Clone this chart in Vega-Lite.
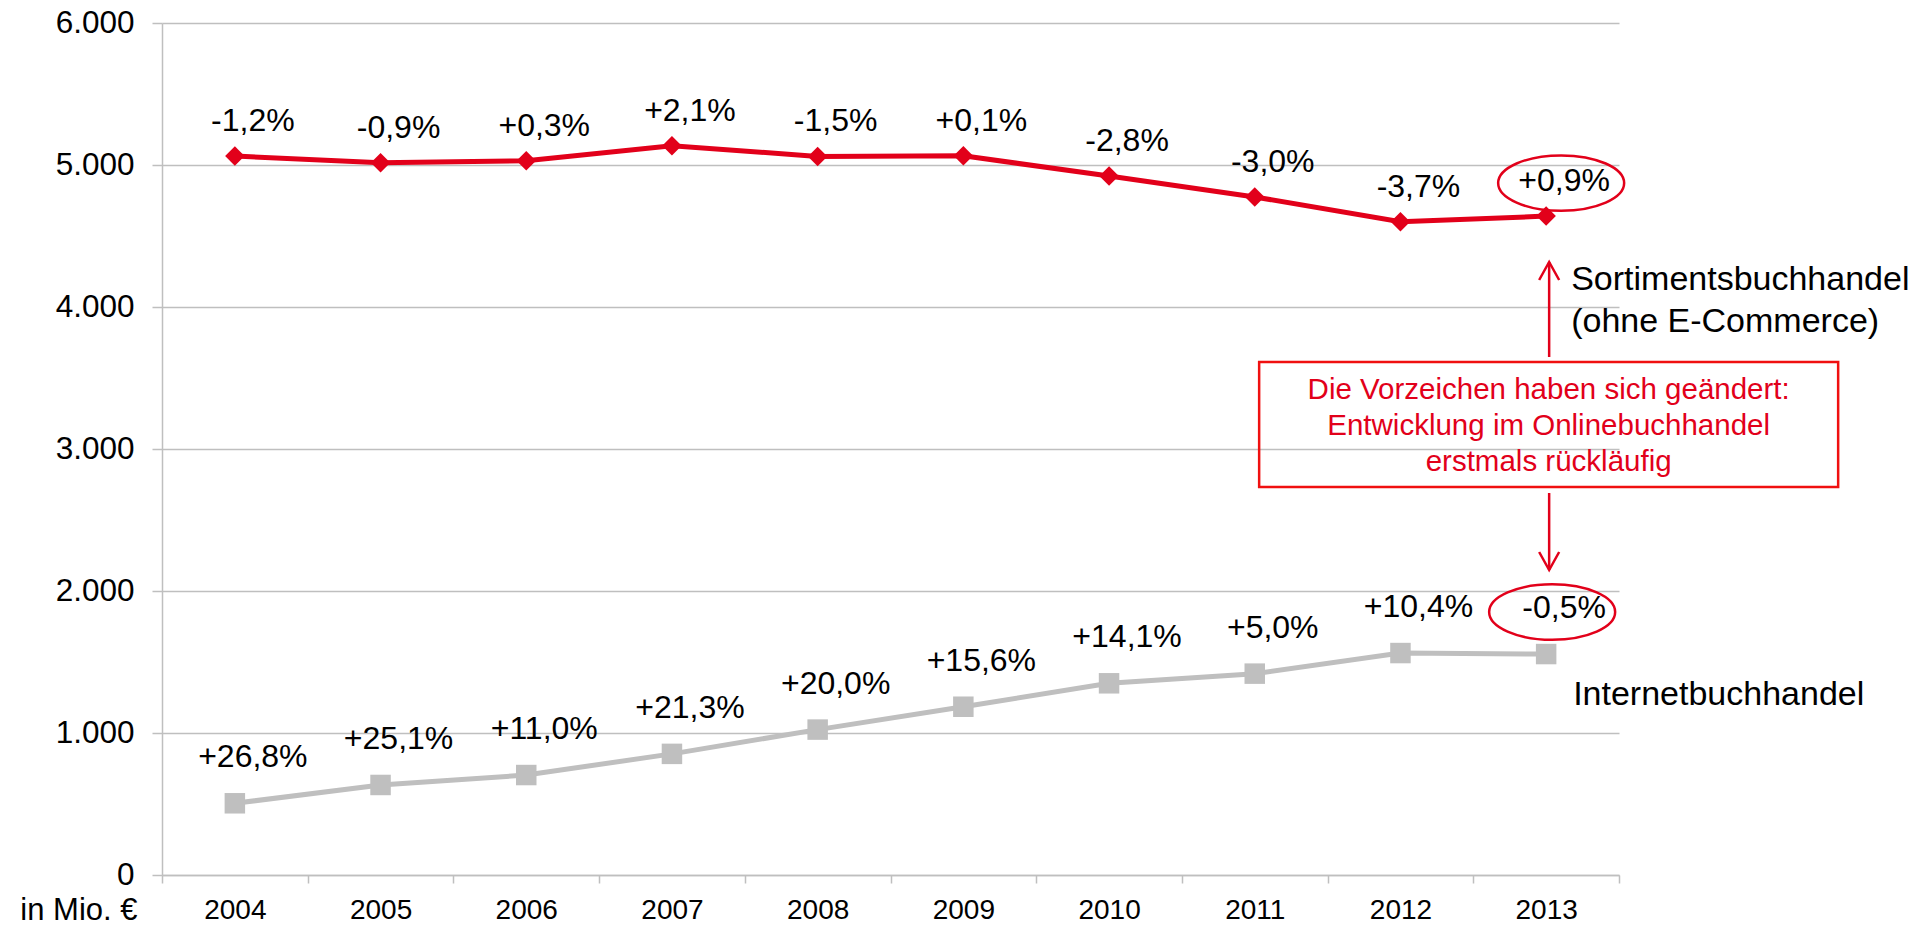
{
  "$schema": "https://vega.github.io/schema/vega-lite/v6.json",
  "width": 1457,
  "height": 852,
  "autosize": {"type": "none"},
  "padding": {"left": 162, "top": 23, "right": 302, "bottom": 52},
  "background": "white",
  "config": {"font": "Liberation Sans", "view": {"stroke": null}},
  "datasets": {
    "series": [
      {"series": "Sortiment", "year": "2004", "value": 5063, "label": "-1,2%"},
      {"series": "Sortiment", "year": "2005", "value": 5015, "label": "-0,9%"},
      {"series": "Sortiment", "year": "2006", "value": 5030, "label": "+0,3%"},
      {"series": "Sortiment", "year": "2007", "value": 5136, "label": "+2,1%"},
      {"series": "Sortiment", "year": "2008", "value": 5060, "label": "-1,5%"},
      {"series": "Sortiment", "year": "2009", "value": 5065, "label": "+0,1%"},
      {"series": "Sortiment", "year": "2010", "value": 4922, "label": "-2,8%"},
      {"series": "Sortiment", "year": "2011", "value": 4775, "label": "-3,0%"},
      {"series": "Sortiment", "year": "2012", "value": 4600, "label": "-3,7%"},
      {"series": "Sortiment", "year": "2013", "value": 4640, "label": "+0,9%"},
      {"series": "Internet", "year": "2004", "value": 505, "label": "+26,8%"},
      {"series": "Internet", "year": "2005", "value": 634, "label": "+25,1%"},
      {"series": "Internet", "year": "2006", "value": 704, "label": "+11,0%"},
      {"series": "Internet", "year": "2007", "value": 853, "label": "+21,3%"},
      {"series": "Internet", "year": "2008", "value": 1024, "label": "+20,0%"},
      {"series": "Internet", "year": "2009", "value": 1185, "label": "+15,6%"},
      {"series": "Internet", "year": "2010", "value": 1350, "label": "+14,1%"},
      {"series": "Internet", "year": "2011", "value": 1418, "label": "+5,0%"},
      {"series": "Internet", "year": "2012", "value": 1563, "label": "+10,4%"},
      {"series": "Internet", "year": "2013", "value": 1556, "label": "-0,5%"}
    ],
    "notes": [
      {"note": "box", "year": "2013", "value": 3173, "text": "Die Vorzeichen haben sich geändert:\nEntwicklung im Onlinebuchhandel\nerstmals rückläufig"},
      {"note": "up", "year": "2013", "value": 3648, "value2": 4317},
      {"note": "down", "year": "2013", "value": 2690, "value2": 2148},
      {"note": "sortiment", "year": "2013", "value": 4042, "text": "Sortimentsbuchhandel\n(ohne E-Commerce)"},
      {"note": "internet", "year": "2013", "value": 1268, "text": "Internetbuchhandel"}
    ]
  },
  "encoding": {
    "x": {
      "field": "year",
      "type": "ordinal",
      "scale": {"type": "band", "paddingInner": 0, "paddingOuter": 0},
      "axis": {
        "title": null,
        "tickBand": "extent",
        "tickSize": 8,
        "tickColor": "#bfbfbf",
        "tickWidth": 1.5,
        "domainColor": "#bfbfbf",
        "domainWidth": 1.5,
        "labelFontSize": 28,
        "labelPadding": 13,
        "labelColor": "#000000",
        "labelAngle": 0,
        "grid": false
      }
    },
    "y": {
      "field": "value",
      "type": "quantitative",
      "scale": {"domain": [0, 6000], "nice": false},
      "axis": {
        "values": [0, 1000, 2000, 3000, 4000, 5000, 6000],
        "labelExpr": "replace(format(datum.value, ','), ',', '.')",
        "labelFontSize": 31.5,
        "labelColor": "#000000",
        "labelPadding": 18,
        "tickSize": 10,
        "tickColor": "#bfbfbf",
        "tickWidth": 1.5,
        "domainColor": "#bfbfbf",
        "domainWidth": 1.5,
        "grid": true,
        "gridColor": "#bfbfbf",
        "gridWidth": 1.5,
        "title": "in Mio. €",
        "titleAngle": 0,
        "titleAlign": "right",
        "titleBaseline": "middle",
        "titleX": -25,
        "titleY": 887,
        "titleFontSize": 31,
        "titleFontWeight": "normal",
        "titleColor": "#000000"
      }
    }
  },
  "layer": [
    {
      "data": {"name": "series"},
      "transform": [{"filter": "datum.series === 'Internet'"}],
      "mark": {"type": "line", "color": "#bfbfbf", "strokeWidth": 5}
    },
    {
      "data": {"name": "series"},
      "transform": [{"filter": "datum.series === 'Internet'"}],
      "mark": {"type": "point", "shape": "square", "filled": true, "color": "#bfbfbf", "size": 420, "opacity": 1}
    },
    {
      "data": {"name": "series"},
      "transform": [{"filter": "datum.series === 'Internet'"}],
      "mark": {"type": "text", "fontSize": 32, "dy": -46, "dx": 18, "color": "#000000", "baseline": "middle", "align": "center"},
      "encoding": {"text": {"field": "label"}}
    },
    {
      "data": {"name": "series"},
      "transform": [{"filter": "datum.series === 'Sortiment'"}],
      "mark": {"type": "line", "color": "#e2001a", "strokeWidth": 5}
    },
    {
      "data": {"name": "series"},
      "transform": [{"filter": "datum.series === 'Sortiment'"}],
      "mark": {"type": "point", "shape": "diamond", "filled": true, "color": "#e2001a", "size": 380, "opacity": 1}
    },
    {
      "data": {"name": "series"},
      "transform": [{"filter": "datum.series === 'Sortiment'"}],
      "mark": {"type": "text", "fontSize": 32, "dy": -35, "dx": 18, "color": "#000000", "baseline": "middle", "align": "center"},
      "encoding": {"text": {"field": "label"}}
    },
    {
      "data": {"name": "series"},
      "transform": [{"filter": "datum.series === 'Sortiment' && datum.year === '2013'"}],
      "mark": {"type": "point", "shape": "M -1 0 A 1 0.44 0 1 1 1 0 A 1 0.44 0 1 1 -1 0 Z", "filled": false, "stroke": "#e2001a", "strokeWidth": 2.5, "size": 15876, "opacity": 1, "xOffset": 15, "yOffset": -33}
    },
    {
      "data": {"name": "series"},
      "transform": [{"filter": "datum.series === 'Internet' && datum.year === '2013'"}],
      "mark": {"type": "point", "shape": "M -1 0 A 1 0.44 0 1 1 1 0 A 1 0.44 0 1 1 -1 0 Z", "filled": false, "stroke": "#e2001a", "strokeWidth": 2.5, "size": 15876, "opacity": 1, "xOffset": 6, "yOffset": -42}
    },
    {
      "data": {"name": "notes"},
      "transform": [{"filter": "datum.note === 'box'"}],
      "mark": {"type": "point", "shape": "M -1 -0.216 L 1 -0.216 L 1 0.216 L -1 0.216 Z", "filled": false, "stroke": "#f01010", "strokeWidth": 2.5, "size": 335241, "opacity": 1, "xOffset": 2.5}
    },
    {
      "data": {"name": "notes"},
      "transform": [{"filter": "datum.note === 'box'"}],
      "mark": {"type": "text", "fontSize": 29.5, "lineHeight": 36, "lineBreak": "\n", "align": "center", "baseline": "middle", "color": "#e2001a", "dx": 2.5, "dy": -34},
      "encoding": {"text": {"field": "text"}}
    },
    {
      "data": {"name": "notes"},
      "transform": [{"filter": "datum.note === 'up' || datum.note === 'down'"}],
      "mark": {"type": "rule", "color": "#e2001a", "strokeWidth": 2.5, "xOffset": 3},
      "encoding": {"y2": {"field": "value2"}}
    },
    {
      "data": {"name": "notes"},
      "transform": [{"filter": "datum.note === 'up'"}],
      "mark": {"type": "point", "shape": "M -1 1.8 L 0 0 L 1 1.8", "filled": false, "stroke": "#e2001a", "strokeWidth": 2.5, "size": 400, "opacity": 1, "xOffset": 3},
      "encoding": {"y": {"field": "value2", "type": "quantitative"}}
    },
    {
      "data": {"name": "notes"},
      "transform": [{"filter": "datum.note === 'down'"}],
      "mark": {"type": "point", "shape": "M -1 -1.8 L 0 0 L 1 -1.8", "filled": false, "stroke": "#e2001a", "strokeWidth": 2.5, "size": 400, "opacity": 1, "xOffset": 3},
      "encoding": {"y": {"field": "value2", "type": "quantitative"}}
    },
    {
      "data": {"name": "notes"},
      "transform": [{"filter": "datum.note === 'sortiment'"}],
      "mark": {"type": "text", "fontSize": 34, "lineHeight": 42, "lineBreak": "\n", "align": "left", "baseline": "middle", "color": "#000000", "dx": 25, "dy": -21},
      "encoding": {"text": {"field": "text"}}
    },
    {
      "data": {"name": "notes"},
      "transform": [{"filter": "datum.note === 'internet'"}],
      "mark": {"type": "text", "fontSize": 34, "align": "left", "baseline": "middle", "color": "#000000", "dx": 27},
      "encoding": {"text": {"field": "text"}}
    }
  ]
}
